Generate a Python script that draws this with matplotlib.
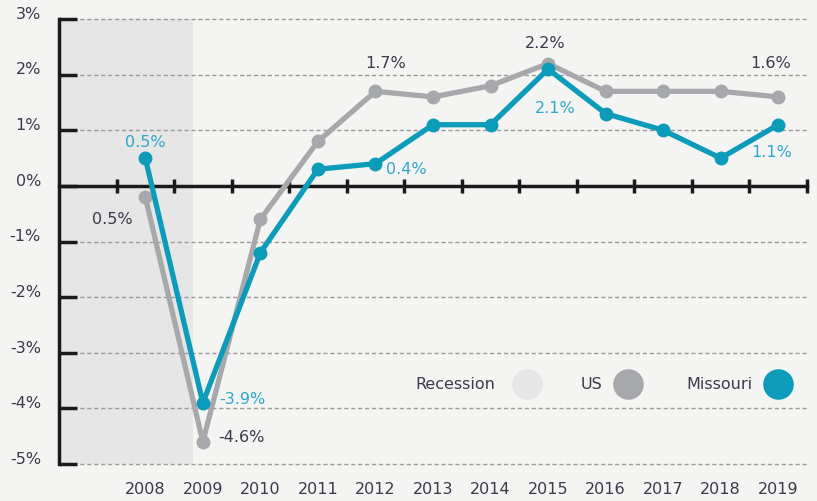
import numpy as np
import matplotlib.pyplot as plt
import matplotlib.transforms as mtransforms

# ---- data (annual growth, %) ----
YEARS = [2008, 2009, 2010, 2011, 2012, 2013, 2014, 2015, 2016, 2017, 2018, 2019]
US = [-0.2, -4.6, -0.6, 0.8, 1.7, 1.6, 1.8, 2.2, 1.7, 1.7, 1.7, 1.6]
MISSOURI = [0.5, -3.9, -1.2, 0.3, 0.4, 1.1, 1.1, 2.1, 1.3, 1.0, 0.5, 1.1]
Y_TICKS = [3, 2, 1, 0, -1, -2, -3, -4, -5]
RECESSION = (-1.5, 0.83)  # in year-index units

BG = '#f4f5f2'
TEAL = '#0c9bb8'
TEAL_TXT = '#2ea7c9'
GRAY = '#a7a8ab'
REC = '#e6e6e7'
DARK = '#3a3a4c'
FS = 11.5

plt.rcParams['font.family'] = ['DejaVu Sans']

x = np.arange(len(YEARS))

fig = plt.figure(figsize=(8.17, 5.01), dpi=100, facecolor=BG)
ax = fig.add_axes([0.0722, 0.0738, 0.9156, 0.8882], facecolor=BG)
ax.set_xlim(-1.5, 11.5)
ax.set_ylim(-5, 3)

ax.axvspan(*RECESSION, color=REC, zorder=0, lw=0)

for y in Y_TICKS:
    if y != 0:
        ax.axhline(y, color='#9a9a9a', lw=1, ls=(0, (3, 2)), zorder=1, clip_on=False)

ax.plot(x, US, color=GRAY, lw=3.8, marker='o', ms=9, zorder=3, solid_capstyle='round')
ax.plot(x, MISSOURI, color=TEAL, lw=3.8, marker='o', ms=9, zorder=4, solid_capstyle='round')

# spines / ticks
for s in ['top', 'right']:
    ax.spines[s].set_visible(False)
ax.spines['left'].set_linewidth(2.5)
ax.spines['left'].set_color('#1a1a1a')
ax.spines['bottom'].set_position(('data', 0))
ax.spines['bottom'].set_linewidth(2.5)
ax.spines['bottom'].set_color('#1a1a1a')
ax.spines['bottom'].set_zorder(2)

ax.set_yticks(Y_TICKS)
ax.set_yticklabels([f'{v}%' for v in Y_TICKS])
ax.tick_params(axis='y', direction='in', length=13, width=2.5, color='#1a1a1a',
               labelsize=FS, labelcolor=DARK, pad=13)
# labels in the reference sit a little above their gridlines
shift = mtransforms.ScaledTranslation(0, 4.5 / 72, fig.dpi_scale_trans)
for t in ax.get_yticklabels():
    t.set_transform(t.get_transform() + shift)
ax.set_xticks(np.arange(-0.5, 11.6, 1))
ax.set_xticklabels([])
ax.tick_params(axis='x', direction='inout', length=10, width=2.5, color='#1a1a1a')

trans = mtransforms.blended_transform_factory(ax.transData, ax.transAxes)
for xi, yr in zip(x, YEARS):
    ax.text(xi, -0.058, str(yr), transform=trans, ha='center', va='center',
            fontsize=FS, color=DARK)

# value labels
lab = dict(fontsize=FS, zorder=5, ha='center', va='center')
ax.text(0, 0.78, '0.5%', color=TEAL_TXT, **lab)
ax.text(-0.57, -0.6, '0.5%', color=DARK, **lab)
ax.text(1.69, -3.84, '-3.9%', color=TEAL_TXT, **lab)
ax.text(1.67, -4.53, '-4.6%', color=DARK, **lab)
ax.text(4.17, 2.2, '1.7%', color=DARK, **lab)
ax.text(4.53, 0.3, '0.4%', color=TEAL_TXT, **lab)
ax.text(6.95, 2.56, '2.2%', color=DARK, **lab)
ax.text(7.12, 1.4, '2.1%', color=TEAL_TXT, **lab)
ax.text(10.86, 2.2, '1.6%', color=DARK, **lab)
ax.text(10.89, 0.6, '1.1%', color=TEAL_TXT, **lab)

# legend (text + circles)
leg_y = -3.57
for tx, cx, label, col in [(5.39, 6.64, 'Recession', REC), (7.75, 8.39, 'US', GRAY),
                           (9.97, 10.99, 'Missouri', TEAL)]:
    ax.text(tx, leg_y, label, ha='center', va='center', fontsize=FS, color=DARK, zorder=5)
    ax.plot([cx], [leg_y], marker='o', ms=21, color=col, ls='none', zorder=5,
            clip_on=False)

fig.savefig('out.png', dpi=100, facecolor=BG)
